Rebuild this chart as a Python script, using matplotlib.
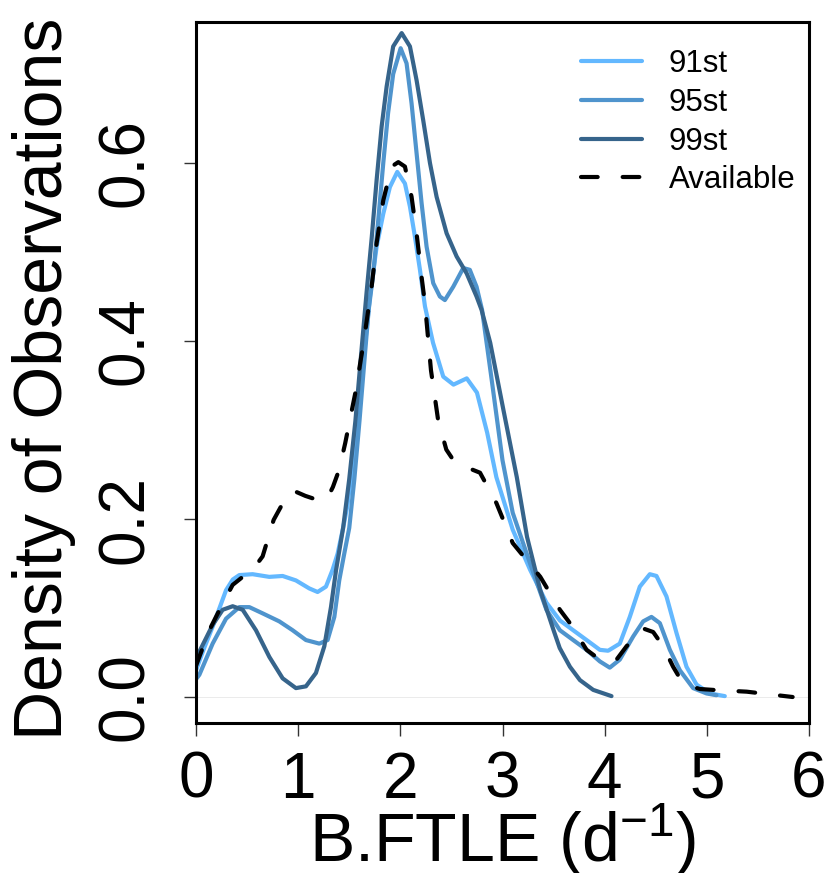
import numpy as np
import matplotlib
matplotlib.use("Agg")
import matplotlib.pyplot as plt

plt.rcParams['font.family'] = ['Liberation Sans', 'DejaVu Sans']
plt.rcParams['mathtext.fontset'] = 'custom'
plt.rcParams['mathtext.rm'] = 'Liberation Sans'
plt.rcParams['mathtext.default'] = 'regular'

# density curves
x91 = [0.0, 0.08, 0.163, 0.294, 0.36, 0.424, 0.554, 0.717, 0.848, 0.978, 1.109, 1.19, 1.272,
       1.337, 1.386, 1.44, 1.48, 1.54, 1.59, 1.64, 1.703, 1.768, 1.833, 1.898, 1.97, 2.045,
       2.094, 2.143, 2.192, 2.241, 2.32, 2.42, 2.52, 2.65, 2.75, 2.85, 2.94, 3.1, 3.27, 3.43,
       3.562, 3.692, 3.823, 3.953, 4.034, 4.148, 4.246, 4.344, 4.442, 4.507, 4.605, 4.703,
       4.801, 4.899, 5.03, 5.176]
y91 = [0.030, 0.055, 0.079, 0.12, 0.132, 0.137, 0.138, 0.135, 0.136, 0.131, 0.122, 0.118, 0.124,
       0.143, 0.161, 0.19, 0.214, 0.265, 0.322, 0.38, 0.45, 0.506, 0.543, 0.573, 0.59, 0.577,
       0.551, 0.517, 0.48, 0.439, 0.398, 0.36, 0.351, 0.358, 0.342, 0.297, 0.247, 0.188, 0.143,
       0.106, 0.086, 0.075, 0.064, 0.053, 0.052, 0.06, 0.09, 0.124, 0.138, 0.136, 0.113, 0.072,
       0.034, 0.014, 0.004, 0.001]

x95 = [0.0, 0.033, 0.163, 0.294, 0.424, 0.522, 0.652, 0.815, 0.946, 1.076, 1.207, 1.288, 1.354,
       1.402, 1.451, 1.5, 1.55, 1.6, 1.65, 1.69, 1.735, 1.784, 1.833, 1.88, 1.93, 2.003, 2.061,
       2.11, 2.159, 2.208, 2.257, 2.322, 2.387, 2.436, 2.518, 2.616, 2.68, 2.746, 2.8, 2.89,
       3.0, 3.1, 3.27, 3.43, 3.562, 3.692, 3.823, 3.953, 4.05, 4.148, 4.279, 4.377, 4.458, 4.54,
       4.638, 4.736, 4.866, 4.997, 5.094]
y95 = [0.02, 0.025, 0.06, 0.088, 0.101, 0.101, 0.094, 0.085, 0.075, 0.064, 0.06, 0.064, 0.09,
       0.131, 0.161, 0.19, 0.245, 0.31, 0.38, 0.435, 0.476, 0.536, 0.6, 0.656, 0.7, 0.729, 0.712,
       0.667, 0.611, 0.555, 0.506, 0.465, 0.45, 0.446, 0.461, 0.482, 0.48, 0.461, 0.435, 0.36,
       0.266, 0.207, 0.15, 0.098, 0.075, 0.064, 0.053, 0.04, 0.033, 0.042, 0.068, 0.085, 0.09,
       0.083, 0.053, 0.03, 0.01, 0.004, 0.002]

x99 = [0.0, 0.033, 0.163, 0.261, 0.359, 0.457, 0.587, 0.718, 0.848, 0.978, 1.076, 1.174, 1.256,
       1.321, 1.37, 1.44, 1.5, 1.56, 1.62, 1.67, 1.719, 1.768, 1.817, 1.866, 1.93, 2.013, 2.094,
       2.159, 2.224, 2.29, 2.355, 2.453, 2.551, 2.649, 2.746, 2.795, 2.88, 3.01, 3.14, 3.24,
       3.37, 3.5, 3.56, 3.66, 3.758, 3.888, 4.067]
y99 = [0.047, 0.051, 0.081, 0.098, 0.102, 0.098, 0.075, 0.045, 0.021, 0.01, 0.012, 0.027, 0.057,
       0.101, 0.142, 0.19, 0.245, 0.31, 0.39, 0.455, 0.515, 0.581, 0.641, 0.686, 0.731, 0.746,
       0.731, 0.693, 0.648, 0.6, 0.562, 0.521, 0.495, 0.476, 0.45, 0.435, 0.398, 0.322, 0.247,
       0.18, 0.12, 0.075, 0.055, 0.034, 0.019, 0.008, 0.001]

x_av = [0.0, 0.13, 0.261, 0.359, 0.457, 0.587, 0.652, 0.76, 0.87, 0.95, 1.07, 1.2, 1.28, 1.34,
        1.4, 1.46, 1.56, 1.64, 1.719, 1.768, 1.833, 1.915, 1.98, 2.045, 2.11, 2.159, 2.208,
        2.241, 2.3, 2.37, 2.45, 2.52, 2.65, 2.78, 2.94, 3.1, 3.37, 3.562, 3.66, 3.823, 3.953,
        4.116, 4.214, 4.377, 4.475, 4.572, 4.67, 4.768, 4.931, 5.061, 5.39, 5.84]
y_av = [0.035, 0.075, 0.105, 0.126, 0.135, 0.148, 0.158, 0.199, 0.222, 0.232, 0.226, 0.221,
        0.222, 0.236, 0.255, 0.285, 0.342, 0.398, 0.461, 0.51, 0.558, 0.596, 0.601, 0.596, 0.562,
        0.521, 0.472, 0.442, 0.367, 0.311, 0.278, 0.266, 0.258, 0.252, 0.218, 0.173, 0.135,
        0.098, 0.083, 0.053, 0.042, 0.042, 0.057, 0.077, 0.073, 0.057, 0.034, 0.015, 0.009,
        0.008, 0.006, 0.0]

labels = ['91st', '95st', '99st', 'Available']
x_ticks = [0, 1, 2, 3, 4, 5, 6]
y_ticks = [0.0, 0.2, 0.4, 0.6]

fig = plt.figure(figsize=(8.27, 8.73), dpi=100)
ax = fig.add_axes([196 / 827, 1 - 723 / 873, 613 / 827, 701.5 / 873])

ax.axhline(0, color='#e8e8e8', lw=0.6, zorder=0)
style = dict(lw=3, solid_capstyle='round', solid_joinstyle='round')
ax.plot(x91, y91, color='#63B8FF', label=labels[0], **style)
ax.plot(x95, y95, color='#4F94CD', label=labels[1], **style)
ax.plot(x99, y99, color='#36648B', label=labels[2], **style)
ax.plot(x_av, y_av, color='black', lw=3, dashes=(4, 6), dash_capstyle='round',
        dash_joinstyle='round', label=labels[3])

ax.set_xlim(0, 6)
ax.set_ylim(-0.0292, 0.759)
ax.set_xticks(x_ticks)
ax.set_xticklabels([str(v) for v in x_ticks])
ax.set_yticks(y_ticks)
ax.set_yticklabels(['%.1f' % v for v in y_ticks])

for s in ax.spines.values():
    s.set_linewidth(2.2)

ax.tick_params(axis='both', direction='out', length=9, width=1.0, color='#333333',
               labelsize=46)
ax.tick_params(axis='x', pad=11)
ax.tick_params(axis='y', pad=20)
for t in ax.get_yticklabels():
    t.set_rotation(90)
    t.set_va('center')

ax.set_xlabel('B.FTLE (d$^{-1}$)', fontsize=49, va='baseline')
ax.xaxis.set_label_coords(0.5, -0.198)
ax.set_ylabel('Density of Observations', fontsize=49, va='baseline')
ax.yaxis.set_label_coords(-0.2186, 0.49)

ax.legend(loc='upper left', bbox_to_anchor=(581 / 827, 1 - 49 / 873),
          bbox_transform=fig.transFigure, frameon=False, fontsize=22.5,
          handlelength=1.95, handletextpad=0.85, labelspacing=0.28,
          borderpad=0, borderaxespad=0)

fig.savefig('out.png', dpi=100)
